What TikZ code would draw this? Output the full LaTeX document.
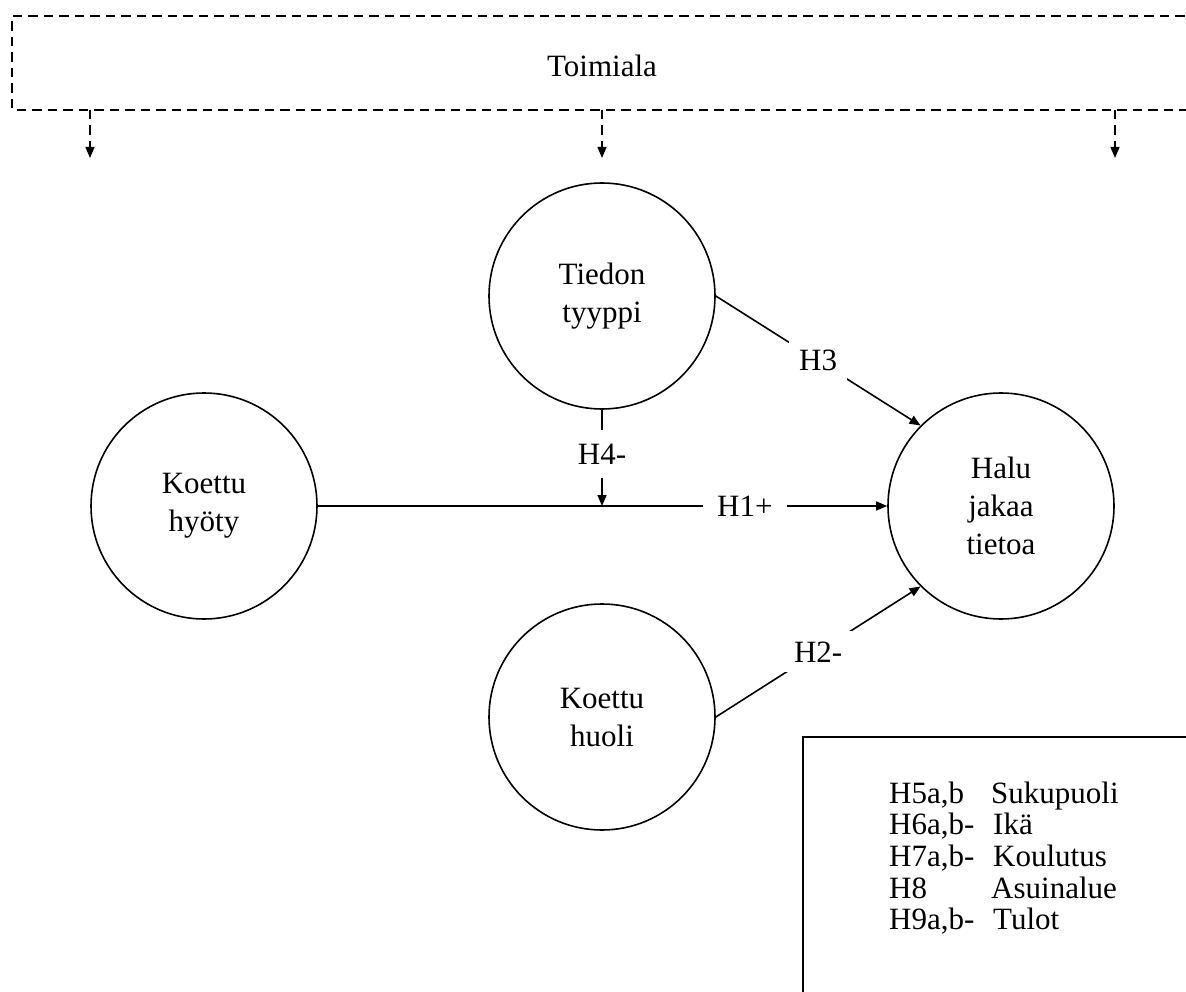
\documentclass[tikz,border=0pt]{standalone}
\usepackage{fontspec}
\setmainfont{Liberation Serif}
\usetikzlibrary{arrows.meta}
\begin{document}
\begin{tikzpicture}[x=1pt,y=-1pt,
  var/.style={circle,draw,line width=1.6pt,minimum size=226pt,inner sep=0pt,
    align=center,font=\fontsize{31}{38}\selectfont},
  conn/.style={line width=1.6pt,-{Triangle[length=11pt,width=9pt]}},
  plain/.style={line width=1.6pt},
  hlab/.style={fill=white,inner xsep=14pt,inner ysep=14pt,font=\fontsize{31}{38}\selectfont},
  dashframe/.style={line width=1.3pt,dash pattern=on 9.5pt off 6pt},
  dasharrow/.style={line width=1.3pt,dash pattern=on 9.5pt off 6pt,-{Triangle[length=11pt,width=9pt]}},
  boxtxt/.style={anchor=base west,inner sep=0pt,font=\fontsize{31}{31.5}\selectfont}]
\useasboundingbox (0,0) rectangle (1186,992);
\clip (0,0) rectangle (1186,992);

% Toimiala dashed frame
\draw[dashframe] (1200,16) -- (12,16) -- (12,110) -- (1200,110);
\node[font=\fontsize{31}{38}\selectfont] (toim) at (602,66) {Toimiala};
\coordinate (d1s) at (90,110);   \coordinate (d1e) at (90,158);
\coordinate (d2s) at (602,110);  \coordinate (d2e) at (602,158);
\coordinate (d3s) at (1115,110); \coordinate (d3e) at (1115,158);
\draw[dasharrow] (d1s) -- (d1e);
\draw[dasharrow] (d2s) -- (d2e);
\draw[dasharrow] (d3s) -- (d3e);

% circles
\node[var] (tiedon) at (602,296) {Tiedon\\tyyppi};
\node[var] (hyoty) at (204,506) {Koettu\\hyöty};
\node[var] (halu) at (1001,506) {Halu\\jakaa\\tietoa};
\node[var] (huoli) at (602,717) {Koettu\\huoli};

% connectors
\coordinate (meet) at (tiedon.south |- hyoty.east);
\draw[conn] (hyoty.east) -- node[hlab,pos=0.75]{H1+} (halu.west);
\draw[conn] (tiedon.south) -- node[hlab,pos=0.46]{H4-} (meet);
\draw[conn] (tiedon.east) -- node[hlab,inner ysep=10pt,inner xsep=10pt]{H3} (halu.135);
\draw[conn] (huoli.east) -- node[hlab,inner ysep=10pt,inner xsep=10pt]{H2-} (halu.225);

% control variables box
\coordinate (bx1) at (1200,737);
\coordinate (bx2) at (803,737);
\coordinate (bx3) at (803,1000);
\draw[plain] (bx1) -- (bx2) -- (bx3);
\node[boxtxt] (h5) at (889,803) {H5a,b};   \node[boxtxt] (v5) at (991,803) {Sukupuoli};
\node[boxtxt] (h6) at (889,834.7) {H6a,b-}; \node[boxtxt] (v6) at (993,834.7) {Ikä};
\node[boxtxt] (h7) at (889,866.4) {H7a,b-};   \node[boxtxt] (v7) at (993,866.4) {Koulutus};
\node[boxtxt] (h8) at (889,898.1) {H8};     \node[boxtxt] (v8) at (991,898.1) {Asuinalue};
\node[boxtxt] (h9) at (889,929.8) {H9a,b-};   \node[boxtxt] (v9) at (993,929.8) {Tulot};
\end{tikzpicture}
\end{document}
